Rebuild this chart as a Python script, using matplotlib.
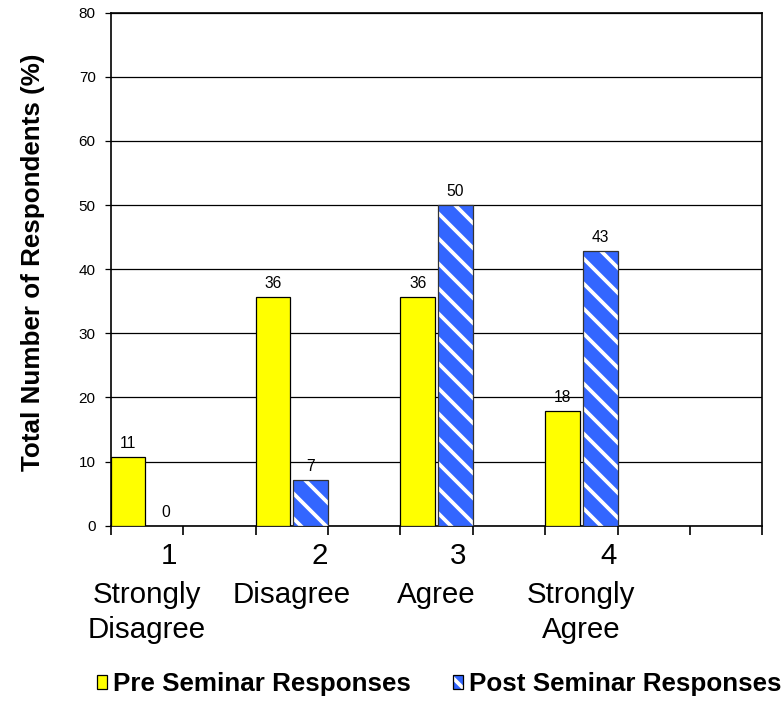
import numpy as np
import matplotlib
matplotlib.use("Agg")
import matplotlib.pyplot as plt
from matplotlib.patches import Patch

plt.rcParams['font.family'] = ['Liberation Sans', 'DejaVu Sans']
plt.rcParams['hatch.linewidth'] = 1.8

# Survey responses, % of respondents per rating
category_numbers = ['1', '2', '3', '4']
category_names = [['Strongly', 'Disagree'], ['Disagree'], ['Agree'], ['Strongly', 'Agree']]
category_slots = [0, 2, 4, 6]          # positions on a 9-slot category axis
n_slots = 9
pre_values = [10.7, 35.7, 35.7, 17.9]
post_values = [0.0, 7.1, 50.0, 42.9]
series_names = ['Pre Seminar Responses', 'Post Seminar Responses']
y_ticks = [0, 10, 20, 30, 40, 50, 60, 70, 80]
y_label = 'Total Number of Respondents (%)'

DPI = 150
PX = 72.0 / DPI   # points per pixel

fig = plt.figure(figsize=(784 / DPI, 705 / DPI), dpi=DPI)
ax = fig.add_axes([110.7 / 784, 1 - 525.7 / 705, 651.6 / 784, 513 / 705])

yellow = '#FFFF00'
blue = '#3366FF'
bar_w = 0.48
off = 0.26

x = np.array(category_slots, dtype=float)

# Pre-seminar bars
ax.bar(x - off, pre_values, width=bar_w, color=yellow, edgecolor='black',
       linewidth=0.6, zorder=3)
# Post-seminar bars: white diagonal stripes on blue, then a dark outline
ax.bar(x + off, post_values, width=bar_w, color=blue, edgecolor='white',
       hatch='\\\\', linewidth=0, zorder=3)
ax.bar(x + off, post_values, width=bar_w, facecolor='none', edgecolor='#333333',
       linewidth=0.6, zorder=4)

# Value labels
for xs, vals in ((x - off, pre_values), (x + off, post_values)):
    for xi, v in zip(xs, vals):
        ax.annotate(f'{v:.0f}', (xi, v), xytext=(0, 9 * PX),
                    textcoords='offset points', ha='center', va='baseline',
                    fontsize=7.5, color='black', zorder=5)

ax.set_xlim(-0.5, n_slots - 0.5)
ax.set_ylim(0, 80)
ax.set_yticks(y_ticks)
ax.set_xticks(np.arange(-0.5, n_slots, 1.0))
ax.set_xticklabels([])
ax.tick_params(axis='y', length=6 * PX, width=0.6, pad=9 * PX, labelsize=7.3)
ax.tick_params(axis='x', length=9 * PX, width=0.8)
ax.yaxis.grid(True, color='black', linewidth=0.6)
ax.set_axisbelow(True)
for s in ax.spines.values():
    s.set_color('black')
    s.set_linewidth(0.8)

# Category labels: rating number, then its description
num_dx = [22, 28, 22, 27]
for xi, num, names, dx in zip(x, category_numbers, category_names, num_dx):
    ax.annotate(num, (xi, 0), xycoords=('data', 'axes fraction'),
                xytext=(dx * PX, -38 * PX), textcoords='offset points',
                ha='center', va='baseline', fontsize=14.2)
    for k, word in enumerate(names):
        ax.annotate(word, (xi, 0), xycoords=('data', 'axes fraction'),
                    xytext=(0, -(77 + 35 * k) * PX), textcoords='offset points',
                    ha='center', va='baseline', fontsize=14.2)

fig.text(33 / 784, 1 - 262 / 705, y_label, rotation=90, ha='center', va='center',
         fontsize=12.5, fontweight='bold')

# Legend
h_pre = Patch(facecolor=yellow, edgecolor='black', linewidth=0.6)
h_post = (Patch(facecolor=blue, edgecolor='white', hatch='\\\\', linewidth=0),
          Patch(facecolor='none', edgecolor='black', linewidth=0.6))
fig.legend([h_pre, h_post], series_names, ncol=2, loc='center',
           bbox_to_anchor=(0.5605, 1 - 684 / 705), frameon=False,
           prop={'weight': 'bold', 'size': 12.5},
           handlelength=0.38, handleheight=0.45, handletextpad=0.25,
           columnspacing=1.6, borderpad=0, borderaxespad=0)

fig.savefig('out.png', dpi=DPI)
